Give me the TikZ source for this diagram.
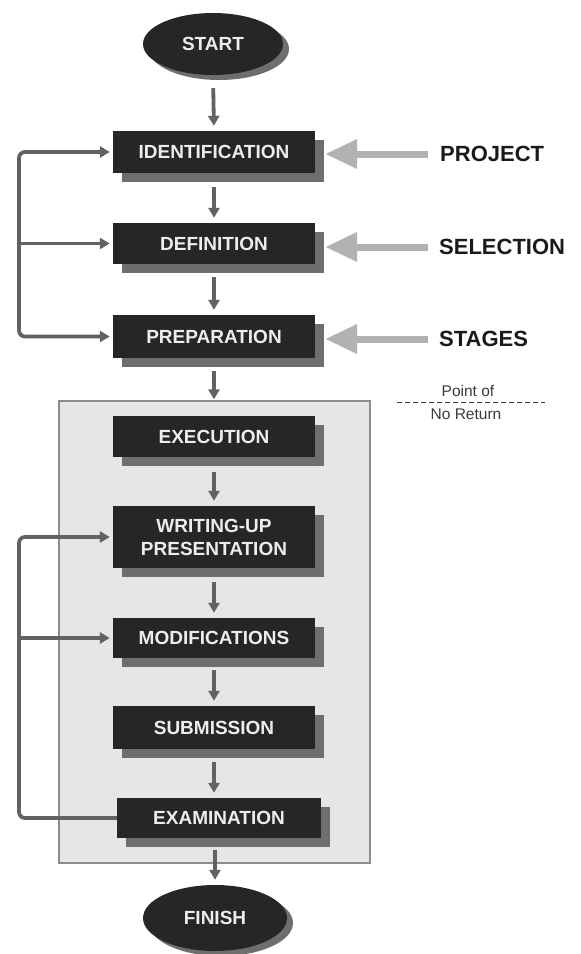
\documentclass[tikz,border=0pt]{standalone}
\usepackage{fontspec}
\setmainfont{Liberation Sans}
\usetikzlibrary{shapes.geometric,shadows,arrows.meta}
\definecolor{boxfill}{HTML}{262626}
\definecolor{boxtext}{HTML}{EDEDED}
\definecolor{shadowgray}{HTML}{6E6E6E}
\definecolor{arrowgray}{HTML}{626262}
\definecolor{inarrowgray}{HTML}{B2B2B2}
\definecolor{labelcol}{HTML}{1A1A1A}
\definecolor{panelfill}{HTML}{E6E6E6}
\definecolor{panelborder}{HTML}{8C8C8C}
\definecolor{notecol}{HTML}{3A3A3A}
\begin{document}
\begin{tikzpicture}[x=1pt,y=-1pt,
  stepbox/.style={rectangle, fill=boxfill, text=boxtext,
    font=\bfseries\fontsize{19}{23}\selectfont, minimum width=202pt,
    inner sep=0pt, align=center,
    drop shadow={shadow xshift=9pt,shadow yshift=-9pt,fill=shadowgray,opacity=1}},
  term/.style={ellipse, fill=boxfill, text=boxtext,
    font=\bfseries\fontsize{19}{23}\selectfont, inner sep=0pt,
    drop shadow={shadow xshift=6pt,shadow yshift=-5pt,fill=shadowgray,opacity=1}},
  flow/.style={draw=arrowgray, line width=3.8pt, -{Triangle[length=10pt 0 0,width=11pt 0 0]},
    shorten >=5pt},
  fback/.style={draw=arrowgray, line width=3.8pt, rounded corners=6pt,
    -{Triangle[length=10pt 0 0,width=11pt 0 0]}, shorten >=3pt},
  inarrow/.style={draw=inarrowgray, line width=7pt, -{Triangle[length=32pt 0 0,width=28pt 0 0]}},
  lab/.style={font=\bfseries\fontsize{22}{26}\selectfont, text=labelcol, anchor=west, inner sep=0pt},
  note/.style={font=\fontsize{15.5}{18}\selectfont, text=notecol, inner sep=0pt},
  panelbox/.style={rectangle, draw=panelborder, fill=panelfill, line width=1.2pt, inner sep=0pt}
]
\useasboundingbox (0,0) rectangle (581,954);

% panel
\node[panelbox, minimum width=311pt, minimum height=462pt] (panel) at (214.5,632) {};

% terminals
\node[term, minimum width=140pt, minimum height=62pt] (start) at (213,44) {START};
\node[term, minimum width=144pt, minimum height=66pt] (finish) at (215,918) {FINISH};

% steps
\node[stepbox, minimum height=42pt] (ident) at (214,152) {IDENTIFICATION};
\node[stepbox, minimum height=41pt] (def) at (214,243.5) {DEFINITION};
\node[stepbox, minimum height=43pt] (prep) at (214,336.5) {PREPARATION};
\node[stepbox, minimum height=41pt] (exec) at (214,436.5) {EXECUTION};
\node[stepbox, minimum height=62pt] (write) at (214,537) {WRITING-UP\\PRESENTATION};
\node[stepbox, minimum height=40pt] (mod) at (214,638) {MODIFICATIONS};
\node[stepbox, minimum height=43pt] (sub) at (214,727.5) {SUBMISSION};
\node[stepbox, minimum height=40pt, minimum width=204pt] (exam) at (219,818) {EXAMINATION};

% right labels
\node[lab] (project) at (440,154) {PROJECT};
\node[lab] (selection) at (439,247) {SELECTION};
\node[lab] (stages) at (439,339) {STAGES};

% point of no return
\coordinate (pnrA) at (397,402);
\coordinate (pnrB) at (545,402);
\draw[notecol, line width=0.9pt, dash pattern=on 5pt off 3pt] (pnrA) -- (pnrB);
\node[note] (pnrtop) at (468,391) {Point of};
\node[note] (pnrbot) at (466,414) {No Return};

% vertical flow
\draw[flow, shorten <=13pt] (start.south) -- (ident.north);
\draw[flow, shorten <=14pt] (ident.south) -- (def.north);
\draw[flow, shorten <=13pt] (def.south) -- (prep.north);
\draw[flow, shorten <=13pt, shorten >=1pt] (prep.south) -- (panel.north -| prep.south);
\draw[flow, shorten <=15pt] (exec.south) -- (write.north);
\draw[flow, shorten <=14pt] (write.south) -- (mod.north);
\draw[flow, shorten <=12pt] (mod.south) -- (sub.north);
\draw[flow, shorten <=13pt] (sub.south) -- (exam.north -| sub.south);
\draw[flow, shorten <=12pt] (exam.south -| finish.north) -- (finish.north);

% input arrows
\coordinate (fb) at (19,0);
\draw[inarrow, shorten <=12pt, shorten >=10pt] (project.west) -- (ident.east |- project.west);
\draw[inarrow, shorten <=11pt, shorten >=10pt] (selection.west) -- (def.east |- selection.west);
\draw[inarrow, shorten <=11pt, shorten >=10pt] (stages.west) -- (prep.east |- stages.west);

% feedback loops
\draw[fback, {Triangle[length=10pt 0 0,width=11pt 0 0]}-{Triangle[length=10pt 0 0,width=11pt 0 0]}, shorten <=3pt]
  (ident.west) -- (ident.west -| fb) |- (prep.west);
\draw[fback] (def.west -| fb) -- (def.west);
\draw[fback] (exam.west) -- (exam.west -| fb) |- (write.west);
\draw[fback] (mod.west -| fb) -- (mod.west);
\end{tikzpicture}
\end{document}
